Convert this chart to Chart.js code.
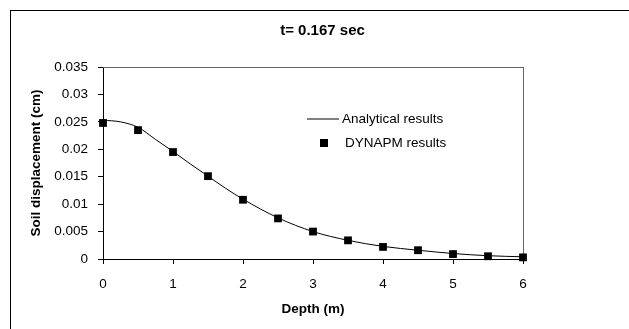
<!DOCTYPE html>
<html>
<head>
<meta charset="utf-8">
<script src="https://cdn.jsdelivr.net/npm/chart.js@4"></script>
<style>
  html, body { margin: 0; padding: 0; background: #fff; overflow: hidden; }
  #frame { position: absolute; left: 10px; top: 10px; width: 700px; height: 400px; border: 1px solid #000; }
  #wrap { position: absolute; left: 0; top: 0; width: 629px; height: 329px; }
</style>
</head>
<body>
<div id="frame"></div>
<div id="wrap"><canvas id="chart" width="629" height="329"></canvas></div>
<script>
// depth (m) and displacement (cm)
var lineDepth = [0, 0.25, 0.5, 0.75, 1, 1.25, 1.5, 1.75, 2, 2.5, 3, 3.5, 4, 4.5, 5, 5.5, 6];
var analytical = [0.0253, 0.0250, 0.0240, 0.0218, 0.0196, 0.0173, 0.0151, 0.0129, 0.0109, 0.0075, 0.0050, 0.0034, 0.0023, 0.0016, 0.0010, 0.0006, 0.0004];

var pointDepth = [0, 0.5, 1, 1.5, 2, 2.5, 3, 3.5, 4, 4.5, 5, 5.5, 6];
var dynapm = [0.0248, 0.0235, 0.0195, 0.0151, 0.0108, 0.0074, 0.0050, 0.0034, 0.0022, 0.0016, 0.0009, 0.0005, 0.0003];

var xTicks = [0, 1, 2, 3, 4, 5, 6];
var yTicks = [0, 0.005, 0.01, 0.015, 0.02, 0.025, 0.03, 0.035];

var FONT = "'Liberation Sans', Arial, sans-serif";

function pairs(xs, ys) {
    return xs.map(function (x, i) { return { x: x, y: ys[i] }; });
}

// legend drawn inside the plot, like the Excel original
var insideLegend = {
    id: 'insideLegend',
    afterDatasetsDraw: function (chart) {
        var ctx = chart.ctx;
        var a = chart.chartArea;
        var sets = chart.data.datasets;
        var x0 = a.left + 204;
        var y0 = a.top + 52;
        ctx.save();
        ctx.font = "13.5px " + FONT;
        ctx.fillStyle = "#000";
        ctx.textBaseline = "middle";
        ctx.strokeStyle = "#000";
        ctx.lineWidth = 1;
        ctx.beginPath();
        ctx.moveTo(x0, y0);
        ctx.lineTo(x0 + 32, y0);
        ctx.stroke();
        ctx.fillText(sets[0].label, x0 + 35, y0);
        ctx.fillRect(x0 + 13, y0 + 24 - 4, 8, 8);
        ctx.fillText(sets[1].label, x0 + 38, y0 + 24);
        ctx.restore();
    }
};

new Chart(document.getElementById("chart"), {
    type: 'scatter',
    data: {
        datasets: [
            {
                label: "Analytical results",
                data: pairs(lineDepth, analytical),
                showLine: true,
                borderColor: "#000",
                borderWidth: 1,
                pointRadius: 0,
                tension: 0.4,
                cubicInterpolationMode: 'monotone',
                fill: false
            },
            {
                label: "DYNAPM results",
                data: pairs(pointDepth, dynapm),
                showLine: false,
                pointStyle: 'rect',
                pointRadius: 5.5,
                backgroundColor: "#000",
                borderColor: "#000",
                borderWidth: 0,
                clip: false
            }
        ]
    },
    options: {
        responsive: false,
        animation: false,
        layout: { padding: { left: 16, right: 0, top: 0, bottom: 0 } },
        plugins: {
            legend: { display: false },
            tooltip: { enabled: false },
            title: {
                display: true,
                text: 't= 0.167 sec',
                color: '#000',
                font: { family: FONT, size: 15, weight: 'bold' },
                padding: { top: 22, bottom: 27 }
            }
        },
        scales: {
            x: {
                type: 'linear',
                position: 'bottom',
                min: 0,
                max: 6,
                afterFit: function (s) { s.height = 70; },
                afterBuildTicks: function (s) { s.ticks = xTicks.map(function (v) { return { value: v }; }); },
                grid: { display: true, drawOnChartArea: false, drawTicks: true, tickLength: 5, color: '#000' },
                border: { display: true, color: '#000', width: 1 },
                ticks: { color: '#000', font: { family: FONT, size: 13.5 }, padding: 12, maxRotation: 0 },
                title: { display: true, text: 'Depth (m)', color: '#000', font: { family: FONT, size: 13.5, weight: 'bold' }, padding: { top: 0, bottom: 12 } }
            },
            y: {
                type: 'linear',
                position: 'left',
                min: 0,
                max: 0.035,
                afterFit: function (s) { s.width = 87; },
                afterBuildTicks: function (s) { s.ticks = yTicks.map(function (v) { return { value: v }; }); },
                grid: { display: true, drawOnChartArea: false, drawTicks: true, tickLength: 5, color: '#000' },
                border: { display: true, color: '#000', width: 1 },
                ticks: {
                    color: '#000',
                    font: { family: FONT, size: 13.5 },
                    padding: 10,
                    callback: function (v) { return String(+v.toFixed(3)); }
                },
                title: { display: true, text: 'Soil displacement (cm)', color: '#000', font: { family: FONT, size: 13.5, weight: 'bold' }, padding: { top: 12, bottom: 0 } }
            },
            xTop: {
                type: 'linear',
                position: 'top',
                min: 0,
                max: 6,
                afterFit: function (s) { s.height = 0; },
                grid: { display: false },
                ticks: { display: false },
                border: { display: true, color: '#666', width: 1 }
            },
            yRight: {
                type: 'linear',
                position: 'right',
                min: 0,
                max: 0.035,
                afterFit: function (s) { s.width = 106; },
                grid: { display: false },
                ticks: { display: false },
                border: { display: true, color: '#666', width: 1 }
            }
        }
    },
    plugins: [insideLegend]
});
</script>
</body>
</html>
